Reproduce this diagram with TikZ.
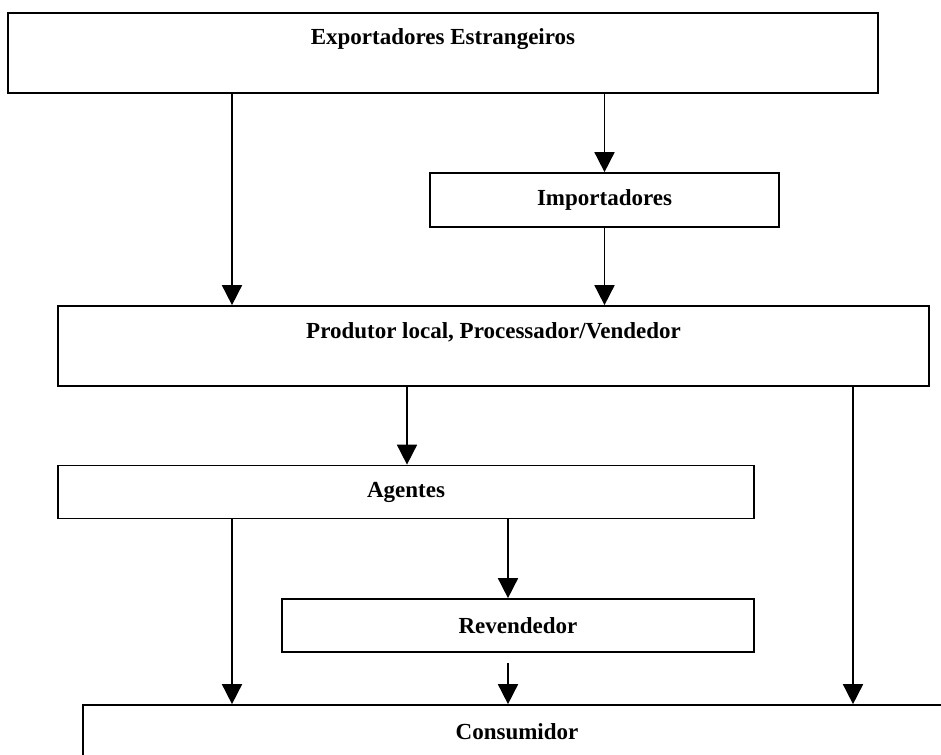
\documentclass[tikz,border=0pt]{standalone}
\usepackage{fontspec}
\setmainfont{Liberation Serif}
\usepackage{tikz}
\usetikzlibrary{arrows.meta}

\begin{document}
\begin{tikzpicture}[x=0.5pt, y=-0.5pt, line width=0.85pt,
        every node/.style={font=\fontsize{11.5}{14}\selectfont\bfseries},
        box/.style={rectangle, draw, inner sep=0pt, minimum height=26.5pt},
        tallbox/.style={rectangle, draw, inner sep=0pt, text height=16pt, text depth=24pt},
        arr/.style={-{Triangle[length=10pt, width=10pt]}}]
            \useasboundingbox (0, 0) rectangle (941, 754);

            \node[tallbox, minimum width=435pt] at (443, 53)    (exp)  {Exportadores Estrangeiros};
            \node[box, minimum width=174.5pt, minimum height=27pt] at (604.5, 200) (imp) {Importadores};
            \node[tallbox, minimum width=435.5pt] at (493.5, 346) (prod) {Produtor local, Processador/Vendedor};
            \node[box, minimum width=348pt] at (406, 492)    (ag)   {Agentes};
            \node[box, minimum width=236pt] at (518, 625.5)  (rev)  {Revendedor};
            \node[box, minimum width=434pt] at (517, 731.5)  (cons) {Consumidor};
            \coordinate (revout) at (508, 663);

            \draw [arr] (exp.south -| 232,0) -- (prod.north -| 232,0);
            \draw [arr] (exp.south -| imp.north) -- (imp.north);
            \draw [arr] (imp.south) -- (prod.north -| imp.south);
            \draw [arr] (prod.south -| 407,0) -- (ag.north -| 407,0);
            \draw [arr] (prod.south -| 853,0) -- (cons.north -| 853,0);
            \draw [arr] (ag.south -| 232,0) -- (cons.north -| 232,0);
            \draw [arr] (ag.south -| revout) -- (rev.north -| revout);
            \draw [arr] (revout) -- (cons.north -| revout);
        \end{tikzpicture}
\end{document}
